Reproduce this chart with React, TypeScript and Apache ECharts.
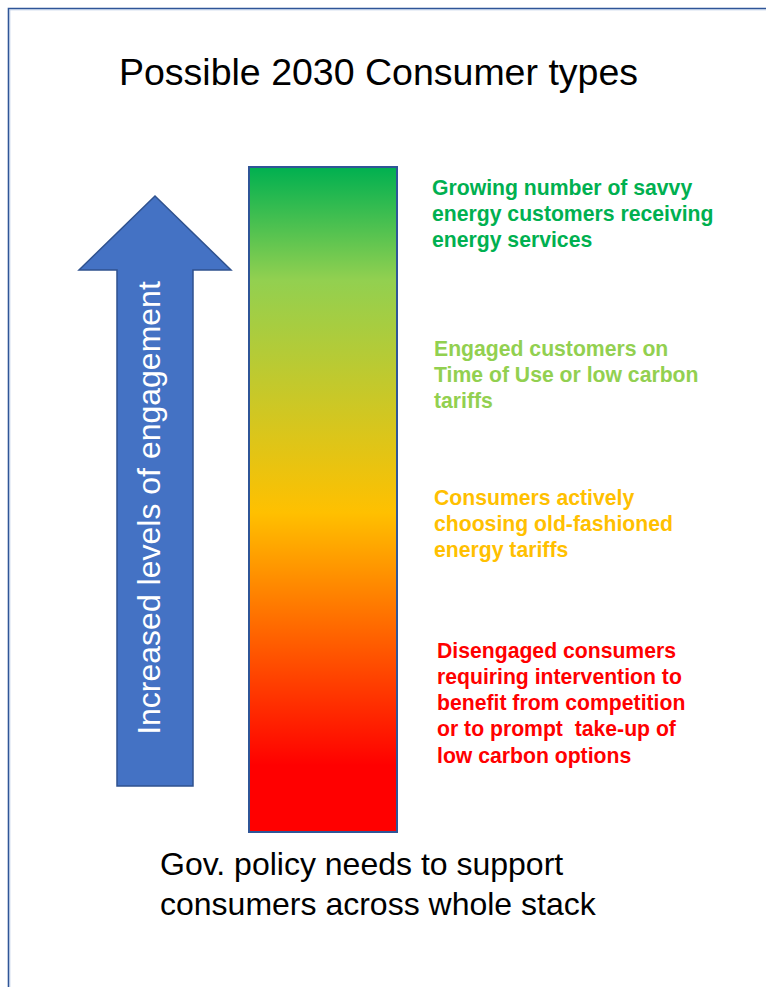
import React, { useEffect, useRef } from "react";
import * as echarts from "echarts";

// ---- content ----
const titleText = "Possible 2030 Consumer types";
const arrowLabel = "Increased levels of engagement";
const footerLines = ["Gov. policy needs to support", "consumers across whole stack"];

const tierSavvy = ["Growing number of savvy", "energy customers receiving", "energy services"];
const tierEngaged = ["Engaged customers on", "Time of Use or low carbon", "tariffs"];
const tierOldFashioned = ["Consumers actively", "choosing old-fashioned", "energy tariffs"];
const tierDisengaged = [
  "Disengaged consumers",
  "requiring intervention to",
  "benefit from competition",
  "or to prompt  take-up of",
  "low carbon options",
];

// gradient stops (position from top of stack, colour)
const stackStopPositions = [0, 0.17, 0.52, 0.9, 1];
const stackStopColors = ["#00B050", "#92D050", "#FFC000", "#FF0000", "#FF0000"];

// ---- styles / layout ----
const FONT = "'Liberation Sans', Arial, Helvetica, sans-serif";
const W = 766;
const H = 987;

const tierLayout = [
  { lines: tierSavvy, color: "#00B050", x: 432, y0: 187 },
  { lines: tierEngaged, color: "#92D050", x: 434, y0: 348 },
  { lines: tierOldFashioned, color: "#FFC000", x: 434, y0: 497 },
  { lines: tierDisengaged, color: "#FF0000", x: 437, y0: 650 },
];
const TIER_LINE = 26.3;

export default function App() {
  const ref = useRef<HTMLDivElement>(null);

  useEffect(() => {
    if (!ref.current) return;
    const chart = echarts.init(ref.current, null, { renderer: "svg", width: W, height: H });

    const graphics: any[] = [];

    // page border (clipped by window at right & bottom)
    graphics.push({
      type: "rect",
      shape: { x: 8.5, y: 8.5, width: 900, height: 1100 },
      style: { fill: "none", stroke: "#2F5597", lineWidth: 1.6 },
      silent: true,
    });
    graphics.push({
      type: "rect",
      shape: { x: 9.8, y: 9.8, width: 900, height: 1100 },
      style: { fill: "none", stroke: "#A9BEE0", lineWidth: 0.8 },
      silent: true,
    });

    // title
    graphics.push({
      type: "text",
      x: 378.5,
      y: 72,
      style: {
        text: titleText,
        fontFamily: FONT,
        fontSize: 37.5,
        fill: "#000000",
        align: "center",
        verticalAlign: "middle",
      },
    });

    // engagement arrow
    graphics.push({
      type: "polygon",
      shape: {
        points: [
          [155, 196],
          [231, 270],
          [193, 270],
          [193, 786],
          [117, 786],
          [117, 270],
          [79, 270],
        ],
      },
      style: { fill: "#4472C4", stroke: "#2F528F", lineWidth: 1.5 },
    });
    graphics.push({
      type: "text",
      x: 149,
      y: 508,
      rotation: Math.PI / 2,
      style: {
        text: arrowLabel,
        fontFamily: FONT,
        fontSize: 32,
        fill: "#FFFFFF",
        align: "center",
        verticalAlign: "middle",
      },
    });

    // gradient stack
    graphics.push({
      type: "rect",
      shape: { x: 249, y: 167, width: 148, height: 665 },
      style: {
        fill: new echarts.graphic.LinearGradient(
          0,
          0,
          0,
          1,
          stackStopPositions.map((p, i) => ({ offset: p, color: stackStopColors[i] }))
        ),
        stroke: "#2F5597",
        lineWidth: 2,
      },
    });

    // tier texts
    tierLayout.forEach((t) => {
      t.lines.forEach((line, i) => {
        graphics.push({
          type: "text",
          x: t.x,
          y: t.y0 + i * TIER_LINE,
          style: {
            text: line,
            fontFamily: FONT,
            fontSize: 21.2,
            fontWeight: "bold",
            fill: t.color,
            align: "left",
            verticalAlign: "middle",
          },
        });
      });
    });

    // footer
    footerLines.forEach((line, i) => {
      graphics.push({
        type: "text",
        x: 160,
        y: 864 + i * 40,
        style: {
          text: line,
          fontFamily: FONT,
          fontSize: 32,
          fill: "#000000",
          align: "left",
          verticalAlign: "middle",
        },
      });
    });

    chart.setOption({
      animation: false,
      backgroundColor: "#FFFFFF",
      graphic: { elements: graphics },
    });

    return () => chart.dispose();
  }, []);

  return (
    <div
      ref={ref}
      style={{ position: "fixed", left: 0, top: 0, width: W, height: H, overflow: "hidden" }}
    />
  );
}
